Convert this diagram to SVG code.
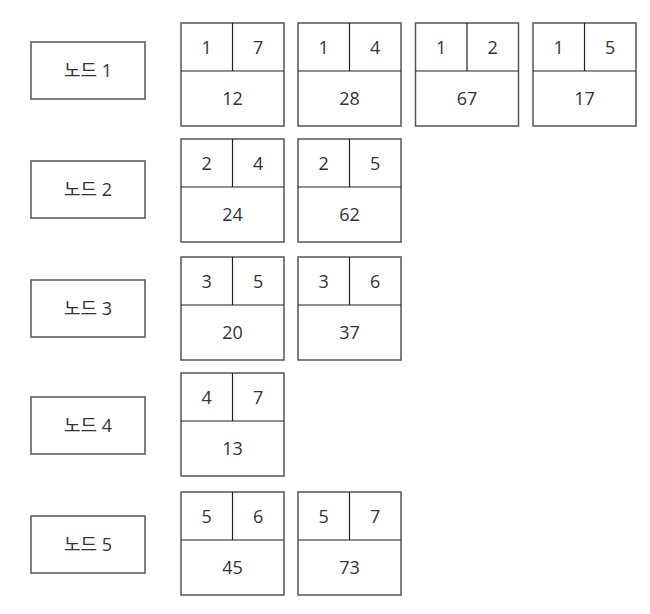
<svg xmlns="http://www.w3.org/2000/svg" width="650" height="614" viewBox="0 0 650 614">
<style>
.box{fill:#fff;stroke:#555;stroke-width:1.5}
.div{stroke:#222;stroke-width:1.2;fill:none}
text{font-family:"Open Sans","Noto Sans CJK KR",sans-serif;font-size:18px;fill:#333;text-anchor:middle}
</style>
<defs>
<g id="cell">
<rect class="box" x="0" y="0" width="103" height="103"/>
<line class="div" x1="0" y1="48" x2="103" y2="48"/>
<line class="div" x1="51.5" y1="0" x2="51.5" y2="48"/>
</g>
</defs>
<rect width="650" height="614" fill="#fff"/>
<g id="nodes">
<g id="node1"><rect class="box" x="31" y="42" width="114" height="57"/><text x="88" y="77">노드 1</text></g>
<g id="node2"><rect class="box" x="31" y="161" width="114" height="57"/><text x="88" y="196">노드 2</text></g>
<g id="node3"><rect class="box" x="31" y="280" width="114" height="57"/><text x="88" y="315">노드 3</text></g>
<g id="node4"><rect class="box" x="31" y="397" width="114" height="57"/><text x="88" y="432">노드 4</text></g>
<g id="node5"><rect class="box" x="31" y="516" width="114" height="57"/><text x="88" y="551">노드 5</text></g>
</g>
<g id="edges">
<g id="e1-7" transform="translate(181,23)"><use href="#cell"/><text x="25.75" y="31">1</text><text x="77.25" y="31">7</text><text x="51.5" y="82">12</text></g>
<g id="e1-4" transform="translate(298,23)"><use href="#cell"/><text x="25.75" y="31">1</text><text x="77.25" y="31">4</text><text x="51.5" y="82">28</text></g>
<g id="e1-2" transform="translate(415.5,23)"><use href="#cell"/><text x="25.75" y="31">1</text><text x="77.25" y="31">2</text><text x="51.5" y="82">67</text></g>
<g id="e1-5" transform="translate(533,23)"><use href="#cell"/><text x="25.75" y="31">1</text><text x="77.25" y="31">5</text><text x="51.5" y="82">17</text></g>
<g id="e2-4" transform="translate(181,139)"><use href="#cell"/><text x="25.75" y="31">2</text><text x="77.25" y="31">4</text><text x="51.5" y="82">24</text></g>
<g id="e2-5" transform="translate(298,139)"><use href="#cell"/><text x="25.75" y="31">2</text><text x="77.25" y="31">5</text><text x="51.5" y="82">62</text></g>
<g id="e3-5" transform="translate(181,257)"><use href="#cell"/><text x="25.75" y="31">3</text><text x="77.25" y="31">5</text><text x="51.5" y="82">20</text></g>
<g id="e3-6" transform="translate(298,257)"><use href="#cell"/><text x="25.75" y="31">3</text><text x="77.25" y="31">6</text><text x="51.5" y="82">37</text></g>
<g id="e4-7" transform="translate(181,373)"><use href="#cell"/><text x="25.75" y="31">4</text><text x="77.25" y="31">7</text><text x="51.5" y="82">13</text></g>
<g id="e5-6" transform="translate(181,492)"><use href="#cell"/><text x="25.75" y="31">5</text><text x="77.25" y="31">6</text><text x="51.5" y="82">45</text></g>
<g id="e5-7" transform="translate(298,492)"><use href="#cell"/><text x="25.75" y="31">5</text><text x="77.25" y="31">7</text><text x="51.5" y="82">73</text></g>
</g>
</svg>
